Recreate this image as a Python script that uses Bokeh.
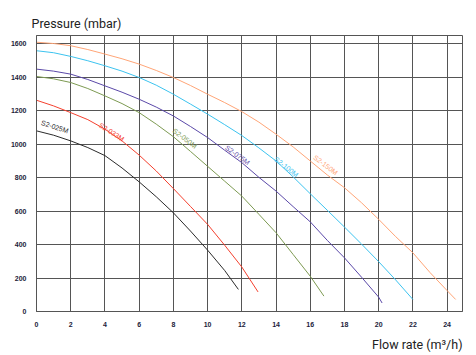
import math
from bokeh.plotting import figure
from bokeh.models import Label, Range1d, FixedTicker, Title
from bokeh.embed import file_html
from bokeh.resources import INLINE

# Flow rate (m3/h) and pressure (mbar) per pump model
x_025 = [0, 1, 2, 3, 4, 5, 6, 7, 8, 9, 10, 11, 11.8]
y_025 = [1080, 1054, 1020, 980, 932, 858, 775, 686, 590, 481, 367, 245, 132]
x_033 = [0, 1, 2, 3, 4, 5, 6, 7, 8, 9, 10, 11, 12, 12.95]
y_033 = [1263, 1229, 1189, 1147, 1090, 1020, 935, 840, 735, 628, 521, 396, 266, 117]
x_050 = [0, 1, 2, 3, 4, 5, 6, 7, 8, 9, 10, 11, 12, 13, 14, 15, 16, 16.8]
y_050 = [1405, 1391, 1369, 1333, 1289, 1243, 1189, 1120, 1045, 957, 868, 779, 690,
         581, 471, 341, 211, 92]
x_075 = [0, 1, 2, 3, 4, 5, 6, 7, 8, 9, 10, 11, 12, 13, 14, 15, 16, 17, 18, 19, 20, 20.2]
y_075 = [1449, 1437, 1419, 1387, 1349, 1311, 1269, 1222, 1169, 1106, 1040, 964, 890,
         802, 720, 627, 536, 425, 321, 205, 86, 51]
x_100 = [0, 1, 2, 3, 4, 5, 6, 7, 8, 9, 10, 11, 12, 13, 14, 15, 16, 17, 18, 19, 20, 21, 22]
y_100 = [1559, 1547, 1525, 1499, 1469, 1437, 1399, 1353, 1299, 1240, 1180, 1117, 1052,
         978, 900, 805, 704, 605, 505, 403, 298, 188, 72]
x_150 = [0, 1, 2, 3, 4, 5, 6, 7, 8, 9, 10, 11, 12, 13, 14, 15, 16, 17, 18, 19, 20,
         21, 22, 23, 24, 24.5]
y_150 = [1610, 1602, 1589, 1566, 1539, 1511, 1479, 1441, 1399, 1351, 1299, 1249, 1195,
         1132, 1060, 984, 900, 816, 740, 650, 551, 447, 351, 233, 125, 72]

names = ["S2-025M", "S2-033M", "S2-050M", "S2-075M", "S2-100M", "S2-150M"]
colors = ["#2b2b2b", "#f4402e", "#7d9a52", "#5a48a8", "#3cc3ef", "#ffa577"]
label_x = [1.07, 4.39, 8.67, 11.75, 14.6, 16.9]
label_y = [1104, 1073, 1035, 935, 864, 876]
label_angle = [-18, -33, -37, -36, -38, -37]

x_ticks = [0, 2, 4, 6, 8, 10, 12, 14, 16, 18, 20, 22, 24]
y_ticks = [0, 200, 400, 600, 800, 1000, 1200, 1400, 1600]

p = figure(width=476, height=355, output_backend="svg", toolbar_location=None,
           x_range=Range1d(0, 24.9), y_range=Range1d(0, 1650),
           min_border_left=36, min_border_right=14, min_border_top=35,
           min_border_bottom=44)
p.frame_width = 426
p.frame_height = 276

p.outline_line_color = "#555555"
p.outline_line_width = 1
for g in (p.xgrid, p.ygrid):
    g.grid_line_color = "#555555"
    g.grid_line_width = 1
p.xaxis.ticker = FixedTicker(ticks=x_ticks)
p.yaxis.ticker = FixedTicker(ticks=y_ticks)
for ax in (p.xaxis, p.yaxis):
    ax.axis_line_color = "#555555"
    ax.major_tick_line_color = None
    ax.minor_tick_line_color = None
    ax.major_label_text_font = "Liberation Sans"
    ax.major_label_text_font_style = "bold"
    ax.major_label_text_font_size = "7px"
    ax.major_label_text_color = "#1c1c3a"
p.xaxis.major_label_standoff = 4
p.yaxis.major_label_standoff = 4

series = [(x_025, y_025), (x_033, y_033), (x_050, y_050),
          (x_075, y_075), (x_100, y_100), (x_150, y_150)]
for (xs, ys), c in zip(series, colors):
    p.line(xs, ys, line_color=c, line_width=1, line_join="round")

for n, c, lx, ly, a in zip(names, colors, label_x, label_y, label_angle):
    p.add_layout(Label(x=lx, y=ly, text=n, angle=math.radians(a),
                       text_color=c, text_font="Liberation Sans",
                       text_font_size="7px", text_align="center",
                       text_baseline="middle"))

p.add_layout(Title(text="Pressure (mbar)", align="left", offset=-5,
                   text_font="Roboto", text_font_size="12.5px",
                   text_font_style="normal", text_color="#222222"), "above")
p.add_layout(Title(text="Flow rate (m³/h)", align="right",
                   text_font="Roboto", text_font_size="12.5px",
                   text_font_style="normal", text_color="#222222"), "below")

open("out.html", "w").write(file_html(p, INLINE))
